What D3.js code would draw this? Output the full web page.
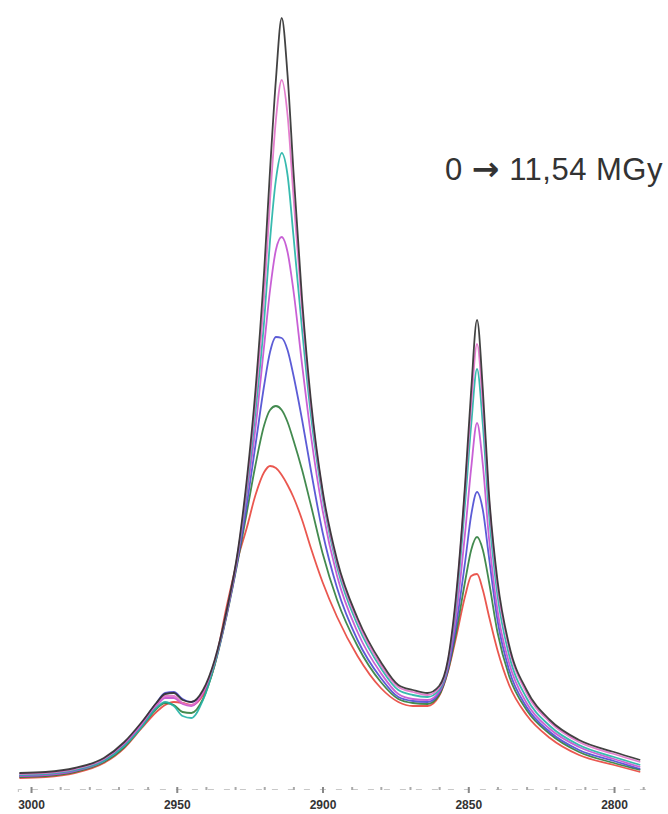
<!DOCTYPE html>
<html>
<head>
<meta charset="utf-8">
<script src="https://cdn.jsdelivr.net/npm/d3@7"></script>
<style>
  html, body { margin: 0; padding: 0; background: #fff; }
  svg { display: block; }
</style>
</head>
<body>
<svg id="chart" width="668" height="814"></svg>
<script>
// Wavenumbers (cm-1), shared by all spectra
const wavenumbers = [3004, 2995, 2985, 2975, 2968, 2962, 2957, 2954, 2951, 2948, 2945, 2941, 2937, 2933, 2929, 2926, 2923, 2920, 2918, 2916, 2914, 2912, 2910, 2907, 2904, 2900, 2895, 2888, 2880, 2874, 2869, 2864, 2860, 2857, 2854, 2851, 2849, 2847, 2845, 2843, 2840, 2836, 2830, 2822, 2812, 2800, 2791];

// Absorbance (arbitrary units), one array per dose
const dose0 = [17, 18, 22, 32, 48, 68, 87, 96, 97, 90, 88, 100, 130, 178, 240, 310, 400, 520, 620, 710, 772, 715, 620, 490, 390, 300, 230, 172, 128, 105, 100, 97, 104, 130, 200, 310, 400, 470, 400, 300, 210, 145, 100, 70, 50, 38, 30];
const dose1 = [16, 17, 21, 31, 47, 67, 86, 94, 94, 87, 85, 98, 129, 177, 238, 305, 390, 495, 590, 670, 710, 675, 595, 480, 385, 297, 227, 169, 125, 103, 98, 95, 102, 128, 196, 305, 385, 446, 385, 295, 205, 142, 97, 68, 48, 36, 28];
const dose2 = [15, 16, 20, 29, 44, 63, 82, 88, 84, 74, 72, 90, 126, 176, 237, 300, 378, 470, 550, 610, 637, 615, 555, 460, 375, 293, 223, 165, 122, 100, 95, 93, 100, 126, 190, 290, 365, 421, 365, 280, 195, 135, 92, 64, 45, 33, 25];
const dose3 = [14, 15, 19, 29, 45, 65, 84, 92, 92, 86, 84, 97, 127, 175, 235, 295, 362, 445, 500, 540, 553, 538, 500, 425, 355, 280, 214, 158, 117, 96, 91, 90, 98, 123, 178, 260, 322, 367, 325, 255, 180, 127, 87, 61, 43, 31, 23];
const dose4 = [14, 15, 19, 30, 46, 67, 87, 97, 98, 91, 88, 98, 127, 174, 232, 285, 345, 405, 438, 453, 452, 440, 415, 370, 320, 258, 202, 150, 112, 93, 89, 88, 97, 121, 168, 230, 275, 298, 280, 235, 170, 120, 83, 58, 40, 29, 21];
const dose5 = [13, 14, 18, 28, 43, 63, 81, 87, 85, 78, 77, 91, 125, 173, 230, 277, 325, 365, 380, 384, 380, 368, 350, 320, 285, 237, 190, 144, 108, 91, 87, 86, 95, 119, 160, 210, 240, 253, 240, 210, 158, 114, 80, 56, 38, 27, 20];
const dose6 = [12, 13, 17, 27, 42, 62, 78, 85, 88, 87, 85, 95, 125, 182, 232, 262, 295, 318, 324, 322, 315, 305, 293, 270, 242, 208, 173, 134, 102, 88, 84, 84, 94, 118, 155, 195, 214, 216, 200, 175, 140, 105, 75, 52, 35, 25, 18];

const seriesValues = [dose0, dose1, dose2, dose3, dose4, dose5, dose6];
const seriesColors = ["#2d2d2d", "#e070c8", "#22b3a6", "#c24fd0", "#4a4ad2", "#2f7d3c", "#e8453c"];

const tickValues = d3.range(2790, 3001, 10);
const tickLabels = ["3000", "2950", "2900", "2850", "2800"];
const annotationStart = "0 ";
const annotationArrow = "\u2192";
const annotationEnd = " 11,54 MGy";

const svg = d3.select("#chart");

const x = d3.scaleLinear().domain([3004.5, 2789]).range([17.9, 646.1]);
const y = d3.scaleLinear().domain([0, 780]).range([790, 10]);

// x axis
const axisY = 789;
const axis = d3.axisBottom(x)
  .tickValues(tickValues)
  .tickSize(3)
  .tickFormat(d => tickLabels.includes(String(d)) ? String(d) : "");
const gAxis = svg.append("g").attr("transform", `translate(0,${axisY})`).call(axis);
gAxis.select(".domain").attr("stroke", "#c8c8c8").attr("stroke-width", 1.2).attr("stroke-dasharray", "6,10");
gAxis.selectAll(".tick line")
  .attr("stroke", d => d % 50 === 0 ? "#888" : "#aaa")
  .attr("stroke-width", 2)
  .attr("y1", -2)
  .attr("y2", d => d % 50 === 0 ? 4 : 1);
gAxis.selectAll(".tick text")
  .attr("y", 11)
  .attr("font-family", "Liberation Sans, Arial, sans-serif")
  .attr("font-size", 12)
  .attr("font-weight", "bold")
  .attr("fill", "#333");

// spectra
const line = d3.line()
  .x((d, i) => x(wavenumbers[i]))
  .y(d => y(d))
  .curve(d3.curveMonotoneX);

svg.append("g")
  .selectAll("path")
  .data(seriesValues.map((v, i) => ({v, c: seriesColors[i]})).reverse())
  .join("path")
  .attr("d", d => line(d.v))
  .attr("fill", "none")
  .attr("stroke", d => d.c)
  .attr("stroke-width", 1.8)
  .attr("stroke-opacity", 0.9);

// annotation
const t = svg.append("text")
  .attr("x", 445)
  .attr("y", 180)
  .attr("font-family", "Liberation Sans, Arial, sans-serif")
  .attr("font-size", 31)
  .attr("letter-spacing", 0.5)
  .attr("fill", "#333");
t.append("tspan").text(annotationStart);
t.append("tspan").attr("font-family", "DejaVu Sans").attr("font-size", 33).attr("font-weight", "bold").text(annotationArrow);
t.append("tspan").text(annotationEnd);
</script>
</body>
</html>
